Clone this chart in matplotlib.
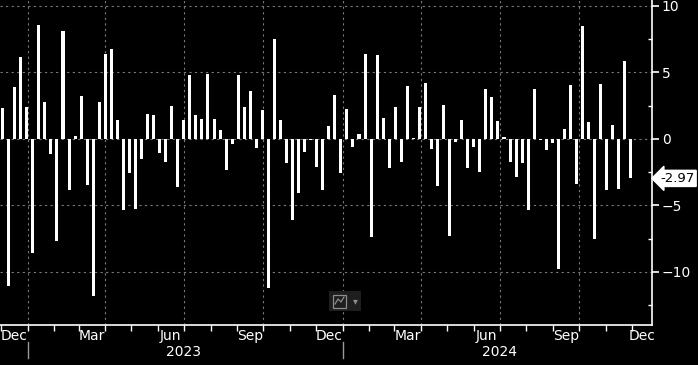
import numpy as np
import pandas as pd
import matplotlib
matplotlib.use("Agg")
import matplotlib.pyplot as plt
import matplotlib.dates as mdates
from matplotlib.patches import Rectangle

# weekly changes, Dec 2022 -> Dec 2024
values = [
    2.33, -11.08, 3.9, 6.15, 2.4, -8.55, 8.55, 2.78, -1.1, -7.7,
    8.1, -3.88, 0.22, 3.23, -3.5, -11.8, 2.78, 6.38, 6.75, 1.43,
    -5.38, -2.6, -5.3, -1.48, 1.88, 1.8, -1.03, -1.73, 2.48, -3.6,
    1.43, 4.8, 1.8, 1.5, 4.88, 1.5, 0.68, -2.33, -0.38, 4.8,
    2.4, 3.6, -0.68, 2.18, -11.23, 7.5, 1.43, -1.8, -6.13, -4.05,
    -0.98, -0.08, -2.1, -3.83, 0.98, 3.3, -2.55, 2.25, -0.6, 0.38,
    6.38, -7.4, 6.3, 1.58, -2.18, 2.4, -1.73, 3.98, 0.08, 2.4,
    4.2, -0.75, -3.53, 2.55, -7.28, -0.23, 1.43, -2.18, -0.6, -2.48,
    3.75, 3.15, 1.35, 0.15, -1.73, -2.85, -1.8, -5.33, 3.75, -0.05,
    -0.83, -0.3, -9.8, 0.75, 4.05, -3.38, 8.48, 1.28, -7.55, 4.13,
    -3.88, 1.05, -3.8, 5.85, -2.97,
]
dates = pd.date_range("2022-12-03", periods=len(values), freq="7D")
last_label = "-2.97"
yticks = [10, 5, 0, -5, -10]
month_labels = ["Dec", "Mar", "Jun", "Sep"]
years = [2023, 2024]

fig = plt.figure(figsize=(6.98, 3.65), dpi=100, facecolor="black")
ax = fig.add_axes([0, 40 / 365, 652 / 698, 325 / 365])
ax.set_facecolor("black")

x = mdates.date2num(dates)
ax.bar(x, values, width=3.5, color="white", zorder=3)

t0 = pd.Timestamp("2022-11-30")
t1 = pd.Timestamp("2024-12-24 12:00")
ax.set_xlim(mdates.date2num(t0), mdates.date2num(t1))
ax.set_ylim(-14, 10.45)

# grid
for y in yticks:
    ax.axhline(y, color="#7a7a7a", lw=0.8, ls=(0, (2, 3)), zorder=1)
for q in pd.date_range("2023-01-01", "2024-12-01", freq="QS"):
    ax.axvline(mdates.date2num(q), color="#7a7a7a", lw=0.8, ls=(0, (2, 3)), zorder=1)

# spines
for s in ["top", "left"]:
    ax.spines[s].set_visible(False)
ax.spines["right"].set_color("white")
ax.spines["bottom"].set_color("white")
ax.spines["right"].set_linewidth(1.2)
ax.spines["bottom"].set_linewidth(1.2)

# y axis on right
ax.yaxis.tick_right()
ax.set_yticks(yticks)
ax.set_yticklabels([str(t).replace("-", "\u2212") for t in yticks])
ax.set_yticks([7.5, 2.5, -2.5, -7.5, -12.5], minor=True)
ax.tick_params(axis="y", which="major", colors="white", length=5, width=1.2,
               direction="out", labelsize=10, pad=2)
ax.tick_params(axis="y", which="minor", colors="white", length=3, width=1,
               direction="in")

# x axis: ticks at month starts, labels centred on visible part of month
months = pd.date_range("2022-12-01", "2024-12-01", freq="MS")
ax.set_xticks(mdates.date2num(months))
ax.set_xticklabels([])
ax.tick_params(axis="x", which="major", colors="white", length=4, width=1,
               direction="out")
lab_pos, lab_txt = [], []
for d in months:
    if d.strftime("%b") not in month_labels:
        continue
    a = max(d, t0)
    b = min(d + pd.offsets.MonthBegin(1), t1)
    lab_pos.append(mdates.date2num(a + (b - a) / 2))
    lab_txt.append(d.strftime("%b"))
ax.set_xticks(lab_pos, minor=True)
ax.set_xticklabels(lab_txt, minor=True)
ax.tick_params(axis="x", which="minor", length=0, colors="white", labelsize=10, pad=3)

# years
trans = ax.get_xaxis_transform()
for yr in years:
    ax.text(mdates.date2num(pd.Timestamp(f"{yr}-07-01")), -0.083, str(yr),
            transform=trans, ha="center", va="center", color="white", fontsize=10)
    xs = mdates.date2num(pd.Timestamp(f"{yr}-01-01"))
    ax.plot([xs, xs], [-0.052, -0.103], transform=trans, color="#9a9a9a",
            lw=1, clip_on=False)

# last value tag
ax.annotate(last_label, xy=(1.0, values[-1]), xycoords=("axes fraction", "data"),
            xytext=(6, 0), textcoords="offset points", ha="left", va="center",
            fontsize=9.5, color="black",
            bbox=dict(boxstyle="larrow,pad=0.12", fc="white", ec="white"),
            annotation_clip=False)

# little chart icon in the middle bottom
H, W = 365, 698
fig.patches.append(Rectangle((329 / W, 1 - 311 / H), 32 / W, 20 / H,
                             transform=fig.transFigure, fc="#1e1e1e", ec="none"))
fig.patches.append(Rectangle((333 / W, 1 - 308 / H), 13 / W, 13 / H,
                             transform=fig.transFigure, fc="none", ec="#8c8c8c", lw=0.9))
fig.lines.append(plt.Line2D([335 / W, 338 / W, 341 / W, 344 / W],
                            [1 - 304 / H, 1 - 299 / H, 1 - 302 / H, 1 - 297 / H],
                            transform=fig.transFigure, color="#8c8c8c", lw=0.9))
fig.text(355 / W, 1 - 301 / H, "\u25be", color="#8c8c8c", fontsize=7,
         ha="center", va="center")

fig.savefig("out.png", dpi=100, facecolor="black")
